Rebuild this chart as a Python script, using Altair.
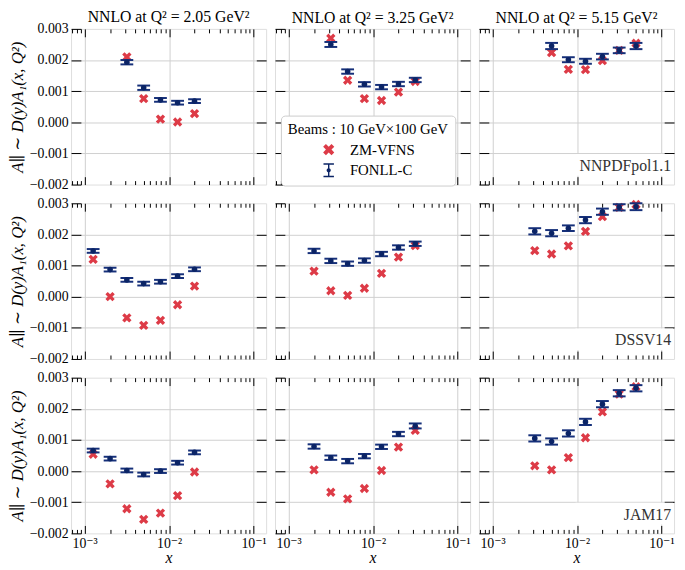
import altair as alt
import pandas as pd

SERIF = "'Liberation Serif', 'DejaVu Serif', 'Times New Roman', serif"
RED = "#dd3b47"
NAVY = "#0b2466"
BAR = "#16307a"
GRID = "#cfcfcf"

Q2_LABELS = ["2.05", "3.25", "5.15"]
PDF_NAMES = ["NNPDFpol1.1", "DSSV14", "JAM17"]
SERIES = ["ZM-VFNS", "FONLL-C"]
BEAMS = "Beams : 10 GeV×100 GeV"
Y_TITLE = "A∥ ∼ D(y)A₁(x, Q²)"

X_MAJOR = [0.001, 0.01, 0.1]
X_MAJOR_LABELS = ["10⁻³", "10⁻²", "10⁻¹"]
X_MINOR = [0.0007, 0.0008, 0.0009,
           0.002, 0.003, 0.004, 0.005, 0.006, 0.007, 0.008, 0.009,
           0.02, 0.03, 0.04, 0.05, 0.06, 0.07, 0.08, 0.09]
Y_TICKS = [-0.002, -0.001, 0.0, 0.001, 0.002, 0.003]
Y_GRID = [-0.001, 0.0, 0.001, 0.002]
X_DOMAIN = [0.00069, 0.141]
Y_DOMAIN = [-0.002, 0.003]

# ---- NNPDFpol1.1 row ----
x_nnpdf_205 = [0.00316, 0.005, 0.0079, 0.0126, 0.02]
fonll_nnpdf_205 = [0.00193, 0.00111, 0.00072, 0.00063, 0.00068]
err_nnpdf_205 = [0.00007, 0.00007, 0.00006, 0.00006, 0.00006]
zm_nnpdf_205 = [0.0021, 0.00076, 0.0001, 0.00001, 0.00028]

x_nnpdf_325 = [0.00316, 0.005, 0.0079, 0.0126, 0.02, 0.0316]
fonll_nnpdf_325 = [0.0025, 0.00163, 0.00122, 0.00113, 0.00123, 0.00136]
err_nnpdf_325 = [0.00008, 0.00007, 0.00007, 0.00007, 0.00007, 0.00007]
zm_nnpdf_325 = [0.0027, 0.00135, 0.00076, 0.0007, 0.00097, 0.00131]

x_nnpdf_515 = [0.005, 0.0079, 0.0126, 0.02, 0.0316, 0.05]
fonll_nnpdf_515 = [0.00245, 0.00201, 0.00196, 0.00211, 0.00231, 0.00245]
err_nnpdf_515 = [0.0001, 0.00008, 0.00008, 0.00009, 0.00009, 0.0001]
zm_nnpdf_515 = [0.00224, 0.0017, 0.00169, 0.00198, 0.00231, 0.00254]

# ---- DSSV14 row ----
x_dssv_205 = [0.00126, 0.002, 0.00316, 0.005, 0.0079, 0.0126, 0.02]
fonll_dssv_205 = [0.00147, 0.00087, 0.00054, 0.00042, 0.00048, 0.00066, 0.00088]
err_dssv_205 = [0.00006, 0.00006, 0.00006, 0.00006, 0.00006, 0.00006, 0.00006]
zm_dssv_205 = [0.0012, 0.0, -0.00068, -0.00092, -0.00076, -0.00026, 0.00034]

x_dssv_325 = [0.002, 0.00316, 0.005, 0.0079, 0.0126, 0.02, 0.0316]
fonll_dssv_325 = [0.00147, 0.00115, 0.00106, 0.00116, 0.00137, 0.00158, 0.0017]
err_dssv_325 = [0.00007, 0.00007, 0.00007, 0.00007, 0.00007, 0.00007, 0.00007]
zm_dssv_325 = [0.00082, 0.00019, 0.00004, 0.00027, 0.00075, 0.00127, 0.00164]

x_dssv_515 = [0.00316, 0.005, 0.0079, 0.0126, 0.02, 0.0316, 0.05]
fonll_dssv_515 = [0.0021, 0.00204, 0.0022, 0.00246, 0.00273, 0.00287, 0.00289]
err_dssv_515 = [0.0001, 0.0001, 0.00009, 0.0001, 0.0001, 0.0001, 0.00011]
zm_dssv_515 = [0.00148, 0.00137, 0.00163, 0.0021, 0.00257, 0.00287, 0.00296]

# ---- JAM17 row ----
x_jam_205 = [0.00126, 0.002, 0.00316, 0.005, 0.0079, 0.0126, 0.02]
fonll_jam_205 = [0.00066, 0.0004, 0.00002, -0.00011, 0.0, 0.00027, 0.0006]
err_jam_205 = [0.00006, 0.00006, 0.00006, 0.00006, 0.00006, 0.00006, 0.00006]
zm_jam_205 = [0.00054, -0.00041, -0.00121, -0.00155, -0.00135, -0.00079, -0.00003]

x_jam_325 = [0.002, 0.00316, 0.005, 0.0079, 0.0126, 0.02, 0.0316]
fonll_jam_325 = [0.00079, 0.00043, 0.00032, 0.00048, 0.00078, 0.00119, 0.00145]
err_jam_325 = [0.00007, 0.00007, 0.00007, 0.00007, 0.00007, 0.00007, 0.00008]
zm_jam_325 = [0.00004, -0.00068, -0.00089, -0.00056, 0.00002, 0.00077, 0.00131]

x_jam_515 = [0.00316, 0.005, 0.0079, 0.0126, 0.02, 0.0316, 0.05]
fonll_jam_515 = [0.00105, 0.00095, 0.00121, 0.00158, 0.00215, 0.0025, 0.00266]
err_jam_515 = [0.0001, 0.0001, 0.0001, 0.0001, 0.0001, 0.0001, 0.0001]
zm_jam_515 = [0.00017, 0.00004, 0.00043, 0.00107, 0.0019, 0.00247, 0.00271]

PANELS = [
    [(x_nnpdf_205, fonll_nnpdf_205, err_nnpdf_205, zm_nnpdf_205),
     (x_nnpdf_325, fonll_nnpdf_325, err_nnpdf_325, zm_nnpdf_325),
     (x_nnpdf_515, fonll_nnpdf_515, err_nnpdf_515, zm_nnpdf_515)],
    [(x_dssv_205, fonll_dssv_205, err_dssv_205, zm_dssv_205),
     (x_dssv_325, fonll_dssv_325, err_dssv_325, zm_dssv_325),
     (x_dssv_515, fonll_dssv_515, err_dssv_515, zm_dssv_515)],
    [(x_jam_205, fonll_jam_205, err_jam_205, zm_jam_205),
     (x_jam_325, fonll_jam_325, err_jam_325, zm_jam_325),
     (x_jam_515, fonll_jam_515, err_jam_515, zm_jam_515)],
]

W, H = 198, 158

X_PATH = ("M-0.8,-0.4 L-0.4,-0.8 L0,-0.4 L0.4,-0.8 L0.8,-0.4 L0.4,0 "
          "L0.8,0.4 L0.4,0.8 L0,0.4 L-0.4,0.8 L-0.8,0.4 L-0.4,0 Z")
EB_PATH = ("M-0.75,-1 L0.75,-1 L0.75,-0.8 L0.1,-0.8 L0.1,0.8 L0.75,0.8 L0.75,1 "
           "L-0.75,1 L-0.75,0.8 L-0.1,0.8 L-0.1,-0.8 L-0.75,-0.8 Z "
           "M0.3,0 A0.3,0.3 0 1,1 -0.3,0 A0.3,0.3 0 1,1 0.3,0 Z")

label_expr = (f"datum.value < 0.003 ? '{X_MAJOR_LABELS[0]}' : "
              f"datum.value < 0.03 ? '{X_MAJOR_LABELS[1]}' : '{X_MAJOR_LABELS[2]}'")

xscale = alt.Scale(type="log", domain=X_DOMAIN, nice=False)
yscale = alt.Scale(domain=Y_DOMAIN, nice=False, zero=False)


def axis(orient, values, size, labels=False, grid=False, title=None, tfs=16, **kw):
    d = dict(orient=orient, values=values, tickSize=size, offset=-size,
             domain=False, ticks=True, tickColor="black", tickWidth=1,
             labels=labels, grid=grid, title=title)
    if grid:
        d.update(gridColor=GRID, gridWidth=1)
    if labels:
        d.update(labelFont=SERIF, labelFontSize=14, labelColor="black",
                 labelPadding=3)
    if title is not None:
        d.update(titleFont=SERIF, titleFontSize=tfs, titleFontWeight="normal",
                 titleFontStyle="italic", titleColor="black")
    d.update(kw)
    return alt.Axis(**d)


def panel(r, c):
    xs, fonll, err, zm = PANELS[r][c]
    df = pd.DataFrame({
        "x": xs, "fonll": fonll, "zm": zm,
        "lo": [f - e for f, e in zip(fonll, err)],
        "hi": [f + e for f, e in zip(fonll, err)],
        "series": [SERIES[0]] * len(xs),
    })
    base = alt.Chart(df)
    bottom = r == 2
    left = c == 0

    ax_a = base.mark_point(opacity=0).encode(
        x=alt.X("x:Q", scale=xscale,
                axis=axis("bottom", X_MAJOR, 8, labels=bottom, grid=True,
                          title="x" if bottom else None,
                          labelExpr=label_expr, titlePadding=0)),
        y=alt.Y("fonll:Q", scale=yscale,
                axis=axis("left", Y_TICKS, 10, labels=left,
                          title=Y_TITLE if left else None, tfs=17,
                          format=".3f", titlePadding=3)),
    )
    ax_b = base.mark_point(opacity=0).encode(
        x=alt.X("x:Q", scale=xscale, axis=axis("top", X_MAJOR, 8)),
        y=alt.Y("fonll:Q", scale=yscale, axis=axis("right", Y_GRID, 10, grid=True)),
    )
    ax_c = base.mark_point(opacity=0).encode(
        x=alt.X("x:Q", scale=xscale, axis=axis("bottom", X_MINOR, 4)),
        y=alt.Y("fonll:Q", scale=yscale, axis=None),
    )
    ax_d = base.mark_point(opacity=0).encode(
        x=alt.X("x:Q", scale=xscale, axis=axis("top", X_MINOR, 4)),
        y=alt.Y("fonll:Q", scale=yscale, axis=None),
    )

    xe = alt.X("x:Q", scale=xscale, axis=None)

    zm_enc = dict(x=xe, y=alt.Y("zm:Q", scale=yscale, axis=None))
    if r == 0 and c == 1:
        leg = alt.Legend(
            title=BEAMS, orient="none", legendX=6, legendY=88,
            titleFont=SERIF, titleFontSize=15, titleFontWeight="normal",
            titleColor="black", titlePadding=5,
            labelFont=SERIF, labelFontSize=15, labelColor="black",
            labelOffset=14, symbolOffset=34, symbolSize=200,
            symbolStrokeWidth=0, symbolOpacity=1, rowPadding=5,
            padding=7, strokeColor="#cccccc", fillColor="#ffffff",
            cornerRadius=4)
        zm_enc["color"] = alt.Color(
            "series:N", scale=alt.Scale(domain=SERIES, range=[RED, NAVY]), legend=leg)
        zm_enc["shape"] = alt.Shape(
            "series:N", scale=alt.Scale(domain=SERIES, range=[X_PATH, EB_PATH]), legend=leg)
    zm_layer = base.mark_point(shape=X_PATH, filled=True, size=140, color=RED,
                               opacity=1, strokeWidth=0).encode(**zm_enc)

    rule = base.mark_rule(color=BAR, strokeWidth=2).encode(
        x=xe, y=alt.Y("lo:Q", scale=yscale, axis=None), y2="hi:Q")
    cap_lo = base.mark_tick(color=BAR, orient="horizontal", size=13, thickness=2,
                            opacity=1).encode(
        x=xe, y=alt.Y("lo:Q", scale=yscale, axis=None))
    cap_hi = base.mark_tick(color=BAR, orient="horizontal", size=13, thickness=2,
                            opacity=1).encode(
        x=xe, y=alt.Y("hi:Q", scale=yscale, axis=None))
    dots = base.mark_circle(color=NAVY, size=32, opacity=1).encode(
        x=xe, y=alt.Y("fonll:Q", scale=yscale, axis=None))

    layers = [ax_a, ax_b, ax_c, ax_d, zm_layer, rule, cap_lo, cap_hi, dots]

    if c == 2:
        lab = alt.Chart(alt.Data(values=[{"label": PDF_NAMES[r]}]))
        bg = lab.mark_rect(color="white").encode(
            x=alt.value(98), x2=alt.value(197), y=alt.value(H - 31), y2=alt.value(H - 9))
        txt = lab.mark_text(font=SERIF, fontSize=16, align="right",
                            baseline="alphabetic", color="#333333").encode(
            x=alt.value(195), y=alt.value(H - 14), text="label:N")
        layers += [bg, txt]

    ch = alt.layer(*layers).resolve_axis(x="independent", y="independent")
    props = dict(width=W, height=H)
    if r == 0:
        tp = dict(font=SERIF, fontSize=16, fontWeight="normal", color="black",
                  offset=2)
        if c == 0:
            tp["dy"] = 5
        props["title"] = alt.TitleParams(
            f"NNLO at Q² = {Q2_LABELS[c]} GeV²", **tp)
    return ch.properties(**props)


charts = [panel(r, c) for r in range(3) for c in range(3)]

chart = alt.concat(
    *charts, columns=3, spacing={"row": 19, "column": 9}, bounds="flush",
    padding={"left": 0, "top": -4, "right": 2, "bottom": 0},
).resolve_legend(color="independent", shape="independent").configure_view(
    stroke="black", strokeWidth=1.2
).configure(background="white")

chart.save("out.html", embed_options={"renderer": "svg", "actions": False})
